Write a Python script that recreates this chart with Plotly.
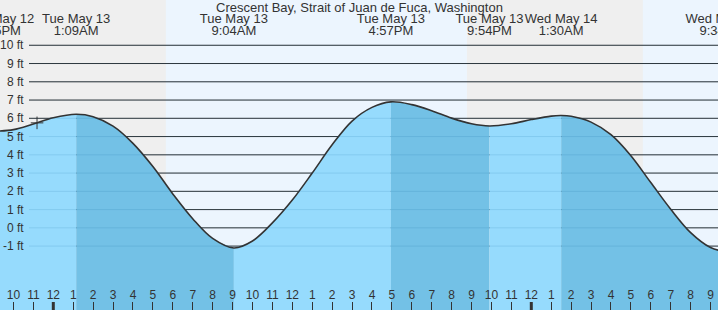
import plotly.graph_objects as go

# ---------------- data ----------------
chart_title = "Crescent Bay, Strait of Juan de Fuca, Washington"

times = [
    "2025-05-12 21:15", "2025-05-12 22:00", "2025-05-12 23:00", "2025-05-13 00:00",
    "2025-05-13 01:09", "2025-05-13 02:00", "2025-05-13 03:00", "2025-05-13 04:00",
    "2025-05-13 05:00", "2025-05-13 06:00", "2025-05-13 07:00", "2025-05-13 08:00",
    "2025-05-13 09:04", "2025-05-13 10:00", "2025-05-13 11:00", "2025-05-13 12:00",
    "2025-05-13 13:00", "2025-05-13 14:00", "2025-05-13 15:00", "2025-05-13 16:00",
    "2025-05-13 16:57", "2025-05-13 18:00", "2025-05-13 19:00", "2025-05-13 20:00",
    "2025-05-13 21:00", "2025-05-13 21:54", "2025-05-13 23:00", "2025-05-14 00:00",
    "2025-05-14 01:00", "2025-05-14 01:30", "2025-05-14 02:00", "2025-05-14 03:00",
    "2025-05-14 04:00", "2025-05-14 05:00", "2025-05-14 06:00", "2025-05-14 07:00",
    "2025-05-14 08:00", "2025-05-14 09:00", "2025-05-14 09:34", "2025-05-14 10:00",
]
heights = [
    5.30, 5.38, 5.69, 6.03,
    6.22, 6.09, 5.57, 4.63,
    3.36, 1.86, 0.50, -0.58,
    -1.10, -0.72, 0.27, 1.52,
    3.00, 4.55, 5.85, 6.60,
    6.90, 6.75, 6.42, 6.01,
    5.70, 5.58, 5.70, 5.93,
    6.12, 6.15, 6.11, 5.79,
    5.10, 3.95, 2.48, 1.02,
    -0.26, -1.08, -1.25, -1.22,
]

extreme_times = ["2025-05-12 21:15", "2025-05-13 01:09", "2025-05-13 09:04",
                 "2025-05-13 16:57", "2025-05-13 21:54", "2025-05-14 01:30",
                 "2025-05-14 09:34"]
extreme_dates = ["Mon May 12", "Tue May 13", "Tue May 13", "Tue May 13",
                 "Tue May 13", "Wed May 14", "Wed May 14"]
extreme_clock = ["9:15PM", "1:09AM", "9:04AM", "4:57PM", "9:54PM", "1:30AM", "9:34AM"]

day_starts = ["2025-05-13 05:39", "2025-05-14 05:36"]
day_ends = ["2025-05-13 20:46", "2025-05-14 20:47"]

midnights = ["2025-05-13 00:00", "2025-05-14 00:00"]

ft_ticks = [-1, 0, 1, 2, 3, 4, 5, 6, 7, 8, 9, 10]
ft_labels = [f"{v} ft" for v in ft_ticks]

now_time = ["2025-05-12 23:11"]
now_height = [5.75]

x_range = ["2025-05-12 21:19:26", "2025-05-14 09:22:26"]
y_range = [-4.5, 12.48]

# ---------------- style ----------------
FONT = "Liberation Sans, Arial, sans-serif"
TXT = "#333333"
NIGHT = "#efefef"
DAY = "#ecf5fe"
RISE = "#96dbfd"
FALL = "#73c1e6"
GRID = "#333333"
BASE = -10
DATE_ROW = 19.5   # label rows, in pixels from the top (overlay axis)
TIME_ROW = 32.0

fig = go.Figure()

# water fill, one segment per rising / falling stretch
idx = [times.index(t) for t in extreme_times]
for a, b in zip(idx, idx[1:] + [len(times) - 1]):
    if b <= a:
        continue
    sx = times[a:b + 1]
    sy = heights[a:b + 1]
    col = RISE if sy[-1] > sy[0] else FALL
    fig.add_trace(go.Scatter(x=[sx[0], sx[-1]], y=[BASE, BASE], mode="lines",
                             line=dict(width=0), hoverinfo="skip", showlegend=False))
    fig.add_trace(go.Scatter(x=sx, y=sy, mode="lines", fill="tonexty", fillcolor=col,
                             line=dict(width=0, shape="spline"), hoverinfo="skip",
                             showlegend=False))

# tide curve
fig.add_trace(go.Scatter(x=times, y=heights, mode="lines",
                         line=dict(color="#333333", width=1.6, shape="spline"),
                         hoverinfo="skip", showlegend=False))

# current time marker
fig.add_trace(go.Scatter(x=now_time, y=now_height, mode="markers",
                         marker=dict(symbol="cross-thin", size=9,
                                     line=dict(color="#333333", width=1)),
                         hoverinfo="skip", showlegend=False))

# high / low labels (text marks on an overlay axis measured in pixels)
fig.add_trace(go.Scatter(x=extreme_times, y=[DATE_ROW] * len(extreme_times), yaxis="y2",
                         mode="text", text=extreme_dates, textposition="middle center",
                         textfont=dict(family=FONT, size=13, color=TXT),
                         hoverinfo="skip", showlegend=False))
fig.add_trace(go.Scatter(x=extreme_times, y=[TIME_ROW] * len(extreme_times), yaxis="y2",
                         mode="text", text=extreme_clock, textposition="middle center",
                         textfont=dict(family=FONT, size=13, color=TXT),
                         hoverinfo="skip", showlegend=False))

shapes = []
for s, e in zip(day_starts, day_ends):
    shapes.append(dict(type="rect", xref="x", yref="paper", x0=s, x1=e, y0=0, y1=1,
                       fillcolor=DAY, line=dict(width=0), layer="below"))
for v in ft_ticks:
    shapes.append(dict(type="line", xref="paper", yref="y", x0=29 / 718, x1=1, y0=v, y1=v,
                       line=dict(color=GRID, width=1), layer="between"))
    shapes.append(dict(type="line", xref="paper", yref="y", x0=29 / 718, x1=1, y0=v, y1=v,
                       line=dict(color="rgba(0,90,150,0.13)", width=1), layer="above"))
for m in midnights:
    shapes.append(dict(type="line", xref="x", yref="paper", x0=m, x1=m, y0=0, y1=8 / 310,
                       line=dict(color="#333333", width=3), layer="above"))

annotations = []
annotations.append(dict(text=chart_title, xref="paper", yref="paper", x=0.5, y=1 - 7 / 310,
                        xanchor="center", yanchor="middle", showarrow=False,
                        font=dict(family=FONT, size=13, color=TXT)))
for v, lab in zip(ft_ticks, ft_labels):
    annotations.append(dict(text=lab, xref="paper", yref="y", x=26 / 718, y=v,
                            xanchor="right", yanchor="middle", showarrow=False,
                            font=dict(family=FONT, size=12, color=TXT)))

fig.update_layout(
    width=718, height=310, autosize=False,
    margin=dict(l=0, r=0, t=0, b=0, pad=0),
    paper_bgcolor=NIGHT, plot_bgcolor=NIGHT,
    showlegend=False,
    shapes=shapes, annotations=annotations,
    font=dict(family=FONT, size=12, color=TXT),
    xaxis=dict(type="date", range=x_range, tickmode="linear",
               tick0="2025-05-13 00:00", dtick=3600000, tickformat="%-I",
               ticks="inside", ticklen=8, tickwidth=1, tickcolor="#333333",
               ticklabelposition="inside", tickfont=dict(family=FONT, size=12, color=TXT),
               showgrid=False, zeroline=False, showline=False, fixedrange=True),
    yaxis=dict(range=y_range, showgrid=False, zeroline=False, showticklabels=False,
               ticks="", showline=False, fixedrange=True),
    yaxis2=dict(range=[310, 0], overlaying="y", showgrid=False, zeroline=False,
                showticklabels=False, ticks="", showline=False, fixedrange=True),
)

fig.write_html("out.html")
